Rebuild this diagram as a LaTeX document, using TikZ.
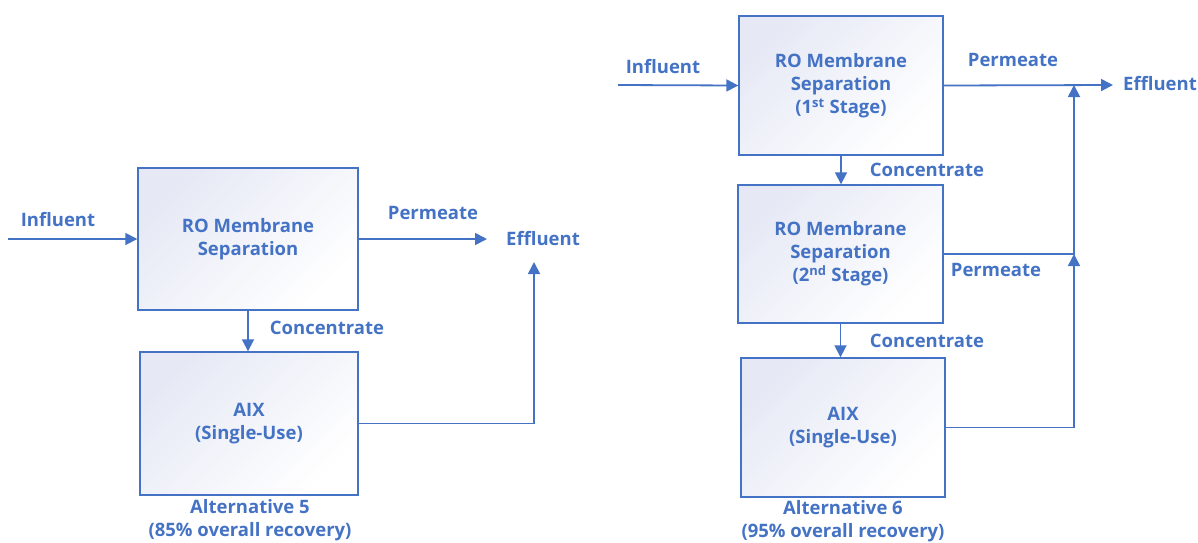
\documentclass[tikz,border=0pt]{standalone}
\usepackage{fontspec}
\setmainfont{Open Sans}
\usetikzlibrary{arrows.meta}
\definecolor{flow}{HTML}{4472C4}
\definecolor{tint}{HTML}{E6E9F5}
\begin{document}
\begin{tikzpicture}[x=1pt,y=-1pt,
  font=\fontsize{18.5}{23}\selectfont\bfseries,
  every node/.style={text=flow},
  unit/.style={draw=flow,line width=1.4pt,left color=tint,right color=white,shading angle=45,
    align=center,inner sep=0pt},
  lbl/.style={inner sep=0pt,align=center},
  pipe/.style={draw=flow,line width=1.8pt},
  flowarrow/.style={pipe,-{Triangle[length=12pt,width=12pt]}}]
\useasboundingbox (0,0) rectangle (1198,542);

% ---- Alternative 5 ----
\node[unit,minimum width=220pt,minimum height=142pt] (rol) at (248,239) {RO Membrane\\Separation};
\node[unit,minimum width=218pt,minimum height=143pt] (aixl) at (249,423.5) {AIX\\(Single-Use)};
\coordinate (inl) at (8,239);
\coordinate (outl) at (487,239);
\coordinate (upl) at (534,262);
\node[lbl] (tinl) at (58,220) {Influent};
\node[lbl] (tpermL) at (433,213) {Permeate};
\node[lbl] (teffl) at (543,239) {Effluent};
\node[lbl] (tconcl) at (327,328) {Concentrate};
\node[lbl] (cap5) at (250,520) {Alternative 5\\(85\% overall recovery)};
\draw[flowarrow] (inl) -- (rol.west);
\draw[flowarrow] (rol.east) -- (outl);
\draw[flowarrow] (rol.south) -- (aixl.north -| rol.south);
\draw[flowarrow] (aixl.east) -| (upl);

% ---- Alternative 6 ----
\node[unit,minimum width=204pt,minimum height=139pt] (ro1) at (841,85.5) {RO Membrane\\Separation\\(1\textsuperscript{st} Stage)};
\node[unit,minimum width=205pt,minimum height=138pt] (ro2) at (840.5,254) {RO Membrane\\Separation\\(2\textsuperscript{nd} Stage)};
\node[unit,minimum width=204pt,minimum height=139pt] (aixr) at (843,427.5) {AIX\\(Single-Use)};
\coordinate (inr) at (618,85);
\coordinate (outr) at (1113,85);
\coordinate (j1) at (1074,85);
\coordinate (j2) at (1074,254);
\node[lbl] (tinr) at (663,67) {Influent};
\node[lbl] (tperm1) at (1013,60) {Permeate};
\node[lbl] (teffr) at (1160,84) {Effluent};
\node[lbl] (tconc1) at (927,170) {Concentrate};
\node[lbl] (tperm2) at (996,270) {Permeate};
\node[lbl] (tconc2) at (927,341) {Concentrate};
\node[lbl] (cap6) at (843,521) {Alternative 6\\(95\% overall recovery)};
\draw[flowarrow] (inr) -- (ro1.west);
\draw[flowarrow] (ro1.east) -- (outr);
\draw[flowarrow] (ro1.south) -- (ro2.north -| ro1.south);
\draw[flowarrow] (ro2.south) -- (aixr.north -| ro2.south);
\draw[flowarrow] (ro2.east) -- (j2) -- (j1);
\draw[flowarrow] (aixr.east) -| (j2);
\end{tikzpicture}
\end{document}
